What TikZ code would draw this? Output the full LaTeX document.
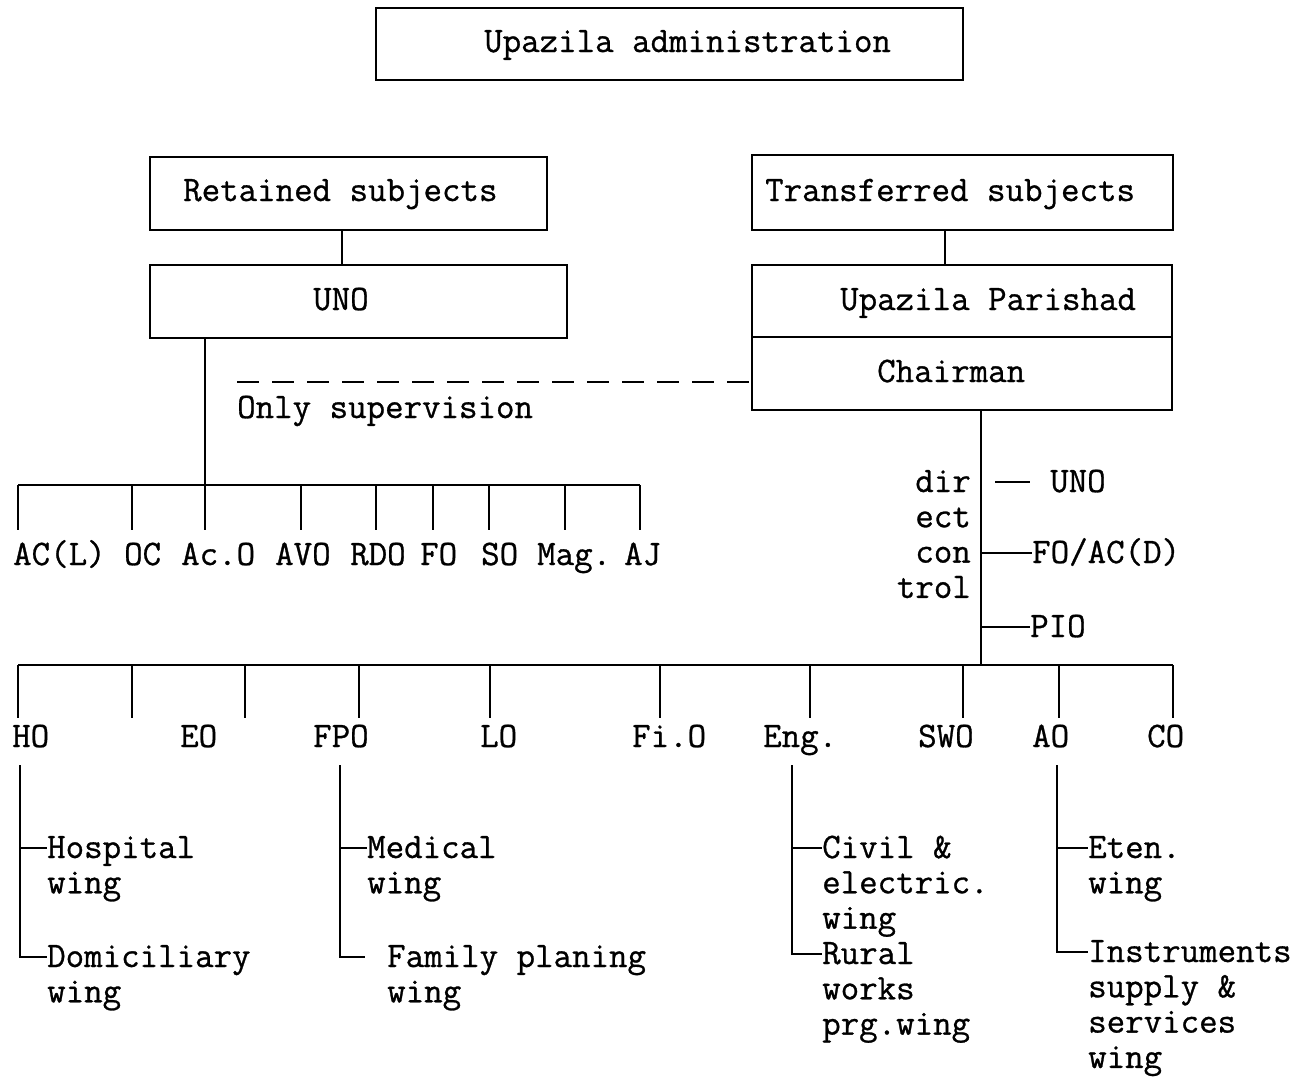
\documentclass[tikz,border=0pt]{standalone}
\usepackage{fontspec}
\setmonofont{lmmono12-regular.otf}[FakeBold=0.8]
\usetikzlibrary{calc}
\newcommand\mlines[1]{\vtop{\halign{##\hfil\cr#1\crcr}}}
\newcommand\mrlines[1]{\vtop{\halign{\hfil##\cr#1\crcr}}}
\tikzset{
  ln/.style={line width=2pt},
  boxs/.style={draw, line width=2pt, inner sep=0pt},
  txt/.style={font=\ttfamily\fontsize{35.9}{35.3}\selectfont, inner sep=0pt, anchor=base west},
  supline/.style={line width=2pt, dash pattern=on 22pt off 13pt},
}
\begin{document}
\begin{tikzpicture}[x=1pt,y=-1pt]
\useasboundingbox[fill=white] (0,0) rectangle (1305,1076);

% ---- boxes
\node[boxs, minimum width=587pt, minimum height=72pt] (adm) at (669.5,44) {};
\node[txt] (admt) at (484,52) {Upazila administration};

\node[boxs, minimum width=397pt, minimum height=73pt] (ret) at (348.5,193.5) {};
\node[txt] (rett) at (183,201) {Retained subjects};
\node[boxs, minimum width=417pt, minimum height=73pt] (uno) at (358.5,301.5) {};
\node[txt] (unot) at (313,310) {UNO};

\node[boxs, minimum width=421pt, minimum height=75pt] (tra) at (962.5,192.5) {};
\node[txt] (trat) at (765,201) {Transferred subjects};
\node[boxs, minimum width=420pt, minimum height=72pt] (par) at (962,301) {};
\node[txt] (part) at (840,310) {Upazila Parishad};
\node[boxs, minimum width=420pt, minimum height=73pt] (chr) at (962,373.5) {};
\node[txt] (chrt) at (877,382) {Chairman};

\draw[ln] ([xshift=-6.5pt]ret.south) -- ([xshift=-6.5pt]ret.south |- uno.north);
\draw[ln] ([xshift=-17.5pt]tra.south) -- ([xshift=-17.5pt]tra.south |- par.north);

% ---- supervision
\node[txt] (supt) at (237,418) {Only supervision};
\coordinate (sA) at (237,382);
\draw[supline] (sA) -- (sA -| chr.west);

% ---- left tree
\coordinate (lj) at (205,485);
\coordinate (lbL) at (18,485);
\coordinate (lbR) at (640,485);
\draw[ln] (uno.south -| lj) -- (lj);
\draw[ln] (lbL) -- (lbR);
\foreach \n/\t/\lx/\tx in {acl/AC(L)/13/18, oc/OC/124/132, aco/Ac.O/181/205, avo/AVO/275/301,
  rdo/RDO/350/376, fo/FO/420/433, so/SO/481/489, mag/Mag./537/565, aj/AJ/624/640}{
  \node[txt] (\n) at (\lx,565) {\t};
  \coordinate (\n top) at (\tx,485);
  \coordinate (\n bot) at (\tx,530);
  \draw[ln] (\n top) -- (\n bot);
}

% ---- right trunk
\coordinate (rj) at (981,665);
\draw[ln] (chr.south -| rj) -- (rj);
\node[txt, anchor=base east] (dc) at (971,492) {\mrlines{dir\cr ect\cr con\cr trol}};
\node[txt] (uno2) at (1050,492) {UNO};
\draw[ln] ([xshift=-55pt,yshift=10pt]uno2.base west) -- ([xshift=-20pt,yshift=10pt]uno2.base west);
\node[txt] (foac) at (1032,563) {FO/AC(D)};
\draw[ln] ([yshift=10pt]foac.base west -| rj) -- ([yshift=10pt]foac.base west);
\node[txt] (pio) at (1030,637) {PIO};
\draw[ln] ([yshift=10pt]pio.base west -| rj) -- ([yshift=10pt]pio.base west);

% ---- lower bar
\coordinate (bbL) at (18,665);
\coordinate (bbR) at (1173,665);
\draw[ln] (bbL) -- (bbR);
\foreach \tx in {18,132,245,359,490,660,810,963,1059,1173}{
  \coordinate (b\tx top) at (\tx,665);
  \coordinate (b\tx bot) at (\tx,718);
  \draw[ln] (b\tx top) -- (b\tx bot);
}
\foreach \n/\t/\lx in {ho/HO/12, eo/EO/180, fpo/FPO/313, lo/LO/480, fio/Fi.O/632,
  eng/Eng./763, swo/SWO/918, ao/AO/1032, co/CO/1147}{
  \node[txt] (\n) at (\lx,747) {\t};
}

% ---- HO wings
\coordinate (hoA) at (20,765);
\node[txt] (hosp) at (47,858) {\mlines{Hospital\cr wing}};
\node[txt] (dom) at (47,967) {\mlines{Domiciliary\cr wing}};
\draw[ln] (hoA) |- ([yshift=10pt]hosp.base west);
\draw[ln] (hoA) |- ([yshift=10pt]dom.base west);

% ---- FPO wings
\coordinate (fpA) at (340,765);
\node[txt] (med) at (367,858) {\mlines{Medical\cr wing}};
\node[txt] (fam) at (387,967) {\mlines{Family planing\cr wing}};
\draw[ln] (fpA) |- ([yshift=10pt]med.base west);
\draw[ln] (fpA) |- ([xshift=-22pt,yshift=10pt]fam.base west);

% ---- Eng wings
\coordinate (enA) at (792,765);
\node[txt] (civ) at (822,858) {\mlines{Civil \&\cr electric.\cr wing}};
\node[txt] (rur) at (822,964) {\mlines{Rural\cr works\cr prg.wing}};
\draw[ln] (enA) |- ([yshift=10pt]civ.base west);
\draw[ln] (enA) |- ([yshift=10pt]rur.base west);

% ---- AO wings
\coordinate (aoA) at (1057,765);
\node[txt] (eten) at (1088,858) {\mlines{Eten.\cr wing}};
\node[txt] (ins) at (1088,962) {\mlines{Instruments\cr supply \&\cr services\cr wing}};
\draw[ln] (aoA) |- ([yshift=10pt]eten.base west);
\draw[ln] (aoA) |- ([yshift=10pt]ins.base west);
\end{tikzpicture}
\end{document}
